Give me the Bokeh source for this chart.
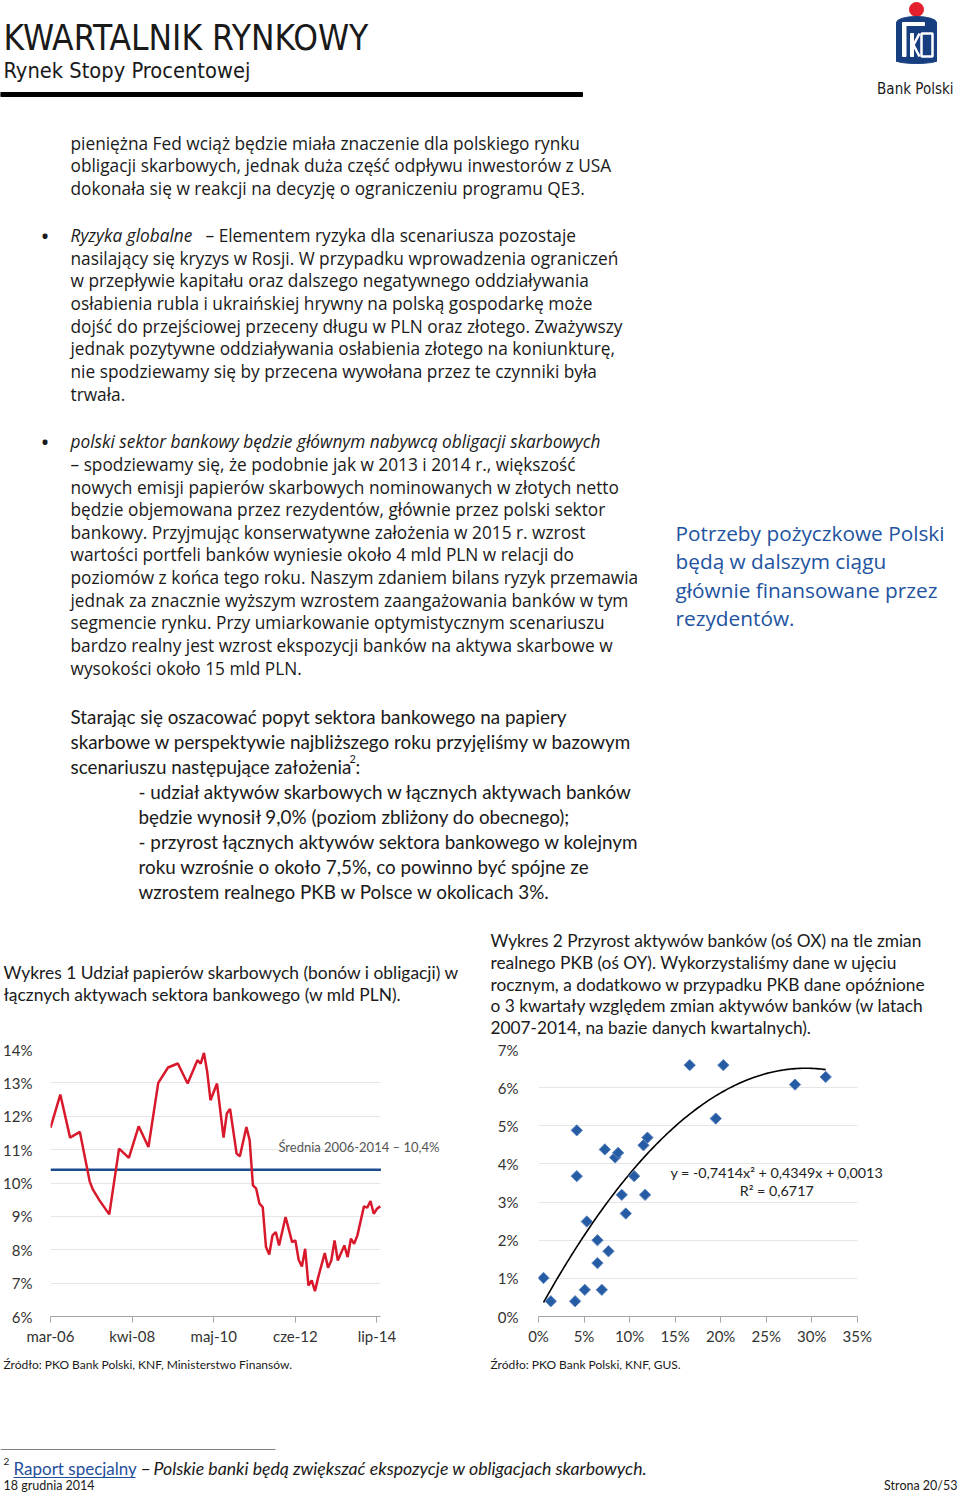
from bokeh.plotting import figure
from bokeh.layouts import column, row
from bokeh.models import Range1d, FixedTicker, PrintfTickFormatter, Label
from bokeh.embed import file_html
from bokeh.resources import INLINE
from bokeh.core.properties import value

# ---------------- Chart 1 data: share of treasury papers in bank assets (%) ----------------
months = ["2006-03", "2006-06", "2006-09", "2006-12", "2007-03", "2007-04", "2007-06", "2007-09",
          "2007-12", "2008-03", "2008-06", "2008-09", "2008-12", "2009-03", "2009-06", "2009-09",
          "2009-12", "2010-01", "2010-02", "2010-03", "2010-04", "2010-06", "2010-08", "2010-09",
          "2010-10", "2010-12", "2011-01", "2011-03", "2011-04", "2011-05", "2011-06", "2011-07",
          "2011-08", "2011-09", "2011-10", "2011-11", "2011-12", "2012-01", "2012-03", "2012-05",
          "2012-06", "2012-07", "2012-08", "2012-09", "2012-10", "2012-11", "2012-12", "2013-01",
          "2013-03", "2013-04", "2013-05", "2013-06", "2013-07", "2013-09", "2013-10", "2013-11",
          "2013-12", "2014-01", "2014-03", "2014-04", "2014-05", "2014-06", "2014-07", "2014-08"]
share_pct = [11.66, 12.65, 11.36, 11.53, 10.05, 9.80, 9.48, 9.06,
             11.03, 10.75, 11.70, 11.08, 13.00, 13.46, 13.58, 12.98,
             13.68, 13.58, 13.90, 13.33, 12.48, 12.98, 11.36, 12.08,
             12.22, 10.88, 10.80, 11.68, 11.28, 9.93, 9.83, 9.38,
             9.28, 8.08, 7.86, 8.43, 8.53, 8.13, 8.98, 8.23,
             8.28, 7.70, 7.50, 8.03, 6.93, 7.08, 6.76, 7.18,
             7.90, 7.46, 7.68, 8.28, 7.68, 8.13, 7.78, 8.33,
             8.18, 8.43, 9.30, 9.26, 9.46, 9.08, 9.23, 9.30]
avg_pct = 10.4
avg_label = "Średnia 2006-2014 – 10,4%"
x1_tick_months = ["2006-03", "2008-04", "2010-05", "2012-06", "2014-07"]
x1_tick_labels = ["mar-06", "kwi-08", "maj-10", "cze-12", "lip-14"]
y1_ticks = [6, 7, 8, 9, 10, 11, 12, 13, 14]

# ---------------- Chart 2 data: bank asset growth (x) vs real GDP growth (y), % ----------------
assets_growth = [0.55, 1.35, 4.02, 4.2, 4.2, 5.08, 5.3, 6.47, 6.47, 6.95, 7.28, 7.68, 8.41,
                 8.74, 9.14, 9.58, 10.5, 11.52, 11.96, 11.70, 16.6, 20.29, 19.46, 28.16, 31.53]
gdp_growth = [1.01, 0.40, 0.40, 4.88, 3.68, 0.70, 2.49, 2.0, 1.4, 0.70, 4.38, 1.71, 4.17,
              4.29, 3.19, 2.70, 3.68, 4.49, 4.69, 3.19, 6.59, 6.59, 5.19, 6.08, 6.28]
trend_a, trend_b, trend_c = -0.7414, 0.4349, 0.0013
trend_eq = "y = -0,7414x² + 0,4349x + 0,0013"
trend_r2 = "R² = 0,6717"
x2_ticks = [0, 5, 10, 15, 20, 25, 30, 35]
y2_ticks = [0, 1, 2, 3, 4, 5, 6, 7]

# ---------------- Page text ----------------
TXT = "#1a1a1a"
BLUE = "#22539f"
WIDE = "Open Sans"
NARROW = "Lato"
HEAD = "'Liberation Sans Narrow', 'DejaVu Sans Condensed', sans-serif"

para1 = ["pieniężna Fed wciąż będzie miała znaczenie dla polskiego rynku",
         "obligacji skarbowych, jednak duża część odpływu inwestorów z USA",
         "dokonała się w reakcji na decyzję o ograniczeniu programu QE3."]
para1_y = [143, 165, 188]
para2 = ["nasilający się kryzys w Rosji. W przypadku wprowadzenia ograniczeń",
         "w przepływie kapitału oraz dalszego negatywnego oddziaływania",
         "osłabienia rubla i ukraińskiej hrywny na polską gospodarkę może",
         "dojść do przejściowej przeceny długu w PLN oraz złotego. Zważywszy",
         "jednak pozytywne oddziaływania osłabienia złotego na koniunkturę,",
         "nie spodziewamy się by przecena wywołana przez te czynniki była",
         "trwała."]
para2_y = [258, 280, 303, 326, 348, 371, 394]
para3 = ["– spodziewamy się, że podobnie jak w 2013 i 2014 r., większość",
         "nowych emisji papierów skarbowych nominowanych w złotych netto",
         "będzie objemowana przez rezydentów, głównie przez polski sektor",
         "bankowy. Przyjmując konserwatywne założenia w 2015 r. wzrost",
         "wartości portfeli banków wyniesie około 4 mld PLN w relacji do",
         "poziomów z końca tego roku. Naszym zdaniem bilans ryzyk przemawia",
         "jednak za znacznie wyższym wzrostem zaangażowania banków w tym",
         "segmencie rynku. Przy umiarkowanie optymistycznym scenariuszu",
         "bardzo realny jest wzrost ekspozycji banków na aktywa skarbowe w",
         "wysokości około 15 mld PLN."]
para3_y = [464, 487, 509, 532, 554, 577, 600, 622, 645, 668]
para4 = ["Starając się oszacować popyt sektora bankowego na papiery",
         "skarbowe w perspektywie najbliższego roku przyjęliśmy w bazowym",
         "scenariuszu następujące założenia"]
para4_y = [716, 741, 766]
para5 = ["- udział aktywów skarbowych w łącznych aktywach banków",
         "będzie wynosił 9,0% (poziom zbliżony do obecnego);",
         "- przyrost łącznych aktywów sektora bankowego w kolejnym",
         "roku wzrośnie o około 7,5%, co powinno być spójne ze",
         "wzrostem realnego PKB w Polsce w okolicach 3%."]
para5_y = [791, 816, 841, 866, 891]
side = ["Potrzeby pożyczkowe Polski", "będą w dalszym ciągu",
        "głównie finansowane przez", "rezydentów."]
side_y = [532, 560, 589, 617]
title1 = ["Wykres 1 Udział papierów skarbowych (bonów i obligacji) w",
          "łącznych aktywach sektora bankowego (w mld PLN)."]
title1_y = [972, 994]
title2 = ["Wykres 2 Przyrost aktywów banków (oś OX) na tle zmian",
          "realnego PKB (oś OY). Wykorzystaliśmy dane w ujęciu",
          "rocznym, a dodatkowo w przypadku PKB dane opóźnione",
          "o 3 kwartały względem zmian aktywów banków (w latach",
          "2007-2014, na bazie danych kwartalnych)."]
title2_y = [940, 962, 984, 1005, 1027]

PAGE_W = 958
TOP_PAGE = 0
TOP_H = 1040
CH_H = 312
BOT_PAGE = 1352
BOT_H = 140


def canvas(h):
    p = figure(width=PAGE_W, height=h, x_range=Range1d(0, PAGE_W), y_range=Range1d(h, 0),
               output_backend="svg", toolbar_location=None, min_border=0,
               x_axis_location=None, y_axis_location=None)
    p.grid.visible = False
    p.outline_line_color = None
    p.background_fill_color = "white"
    return p


def put(p, top, xs, ys, texts, font, size, color=TXT, style="normal", align="left"):
    p.text(x=list(xs), y=[y - top for y in ys], text=texts,
           text_font=value(font), text_font_size=value(f"{size}px"),
           text_color=color, text_font_style=style, text_align=align,
           text_baseline="middle")


# ---------------- Top canvas: header, body text, chart titles ----------------
pt = canvas(TOP_H)
put(pt, TOP_PAGE, [3], [37], ["KWARTALNIK RYNKOWY"], HEAD, 35)
put(pt, TOP_PAGE, [3], [70], ["Rynek Stopy Procentowej"], HEAD, 21.7)
pt.quad(left=[0], right=[582], top=[92], bottom=[96], color="black")

# logo (decorative)
pt.circle(x=[916], y=[9], radius=7, color="#e3202b")
pt.ellipse(x=[916], y=[22], width=40, height=12, color="#173f80")
pt.quad(left=[896], right=[936], top=[22], bottom=[61], color="#173f80")
pt.ellipse(x=[916], y=[60], width=40, height=6, color="#173f80")
pt.quad(left=[902], right=[905.5], top=[25], bottom=[56], color="white")
pt.quad(left=[902], right=[924], top=[22], bottom=[25], color="white")
pt.quad(left=[910], right=[913], top=[33], bottom=[56], color="white")
pt.segment(x0=[913, 913], y0=[44.5, 44.5], x1=[919, 919], y1=[33, 56], line_color="white", line_width=2.5)
pt.quad(left=[921], right=[932], top=[33], bottom=[56], fill_color=None, line_color="white", line_width=2.5)
put(pt, TOP_PAGE, [953], [88], ["Bank Polski"], HEAD, 15, align="right")

put(pt, TOP_PAGE, [70] * 3, para1_y, para1, WIDE, 17.3)
put(pt, TOP_PAGE, [40, 40], [235, 441], ["•", "•"], WIDE, 24)
put(pt, TOP_PAGE, [70], [235], ["Ryzyka globalne"], WIDE, 17.3, style="italic")
put(pt, TOP_PAGE, [205], [235], ["– Elementem ryzyka dla scenariusza pozostaje"], WIDE, 17.3)
put(pt, TOP_PAGE, [70] * len(para2), para2_y, para2, WIDE, 17.3)
put(pt, TOP_PAGE, [70], [441], ["polski sektor bankowy będzie głównym nabywcą obligacji skarbowych"],
    WIDE, 17.3, style="italic")
put(pt, TOP_PAGE, [70] * len(para3), para3_y, para3, WIDE, 17.3)
put(pt, TOP_PAGE, [70] * len(para4), para4_y, para4, NARROW, 18.85)
put(pt, TOP_PAGE, [349], [758], ["2"], NARROW, 11)
put(pt, TOP_PAGE, [355], [766], [":"], NARROW, 18.85)
put(pt, TOP_PAGE, [138] * len(para5), para5_y, para5, NARROW, 18.85)
put(pt, TOP_PAGE, [675] * len(side), side_y, side, WIDE, 20.8, color=BLUE)
put(pt, TOP_PAGE, [3] * len(title1), title1_y, title1, NARROW, 17.4)
put(pt, TOP_PAGE, [490] * len(title2), title2_y, title2, NARROW, 17.3)

# ---------------- Chart 1 ----------------
def midx(s):
    y, m = map(int, s.split("-"))
    return (y - 2006) * 12 + (m - 3)


GRID = "#e6e6e6"
AXIS = "#a6a6a6"
LBL = "#333333"

x1_start, x1_end = 0, 101.2          # extent of the plotted time axis (months since mar-06)
x1_view_end = 121.9                  # extra room on the right for the average label
p1 = figure(width=480, height=CH_H, x_range=Range1d(x1_start, x1_view_end), y_range=Range1d(6, 14),
            output_backend="svg", toolbar_location=None,
            min_border_left=48, min_border_right=32, min_border_top=9, min_border_bottom=36)
p1.outline_line_color = None
p1.xgrid.visible = False
p1.ygrid.grid_line_color = GRID
p1.ygrid.ticker = FixedTicker(ticks=y1_ticks)
p1.ygrid.cross_bounds = (x1_start, x1_end)
p1.line(x=[x1_start, x1_end], y=[avg_pct, avg_pct], line_color="#1d4b8f", line_width=2.5)
p1.line(x=[midx(m) for m in months], y=share_pct, line_color="#d8192b", line_width=2.5)
p1.add_layout(Label(x=69.8, y=11.07, text=avg_label, text_font=NARROW, text_font_size="13px",
                    text_color="#555555", text_baseline="middle"))
p1.yaxis.ticker = FixedTicker(ticks=y1_ticks)
p1.yaxis.formatter = PrintfTickFormatter(format="%d%%")
p1.yaxis.axis_line_color = None
p1.yaxis.major_tick_line_color = None
p1.yaxis.minor_tick_line_color = None
p1.yaxis.major_label_standoff = 12
x1_ticks = [midx(m) for m in x1_tick_months]
p1.xaxis.ticker = FixedTicker(ticks=x1_ticks)
p1.xaxis.bounds = (x1_start, x1_end)
p1.xaxis.major_label_overrides = {t: l for t, l in zip(x1_ticks, x1_tick_labels)}
p1.xaxis.axis_line_color = AXIS
p1.xaxis.major_tick_line_color = AXIS
p1.xaxis.major_tick_out = 6
p1.xaxis.major_tick_in = 0
p1.xaxis.minor_tick_line_color = None
p1.xaxis.major_label_standoff = 4
for ax in (p1.xaxis, p1.yaxis):
    ax.major_label_text_font = NARROW
    ax.major_label_text_font_size = "15px"
    ax.major_label_text_color = LBL

# ---------------- Chart 2 ----------------
x_lo, x_hi = min(assets_growth), max(assets_growth)
trend_x = [x_lo + (x_hi - x_lo) * i / 120 for i in range(121)]
trend_y = [100 * (trend_a * (x / 100) ** 2 + trend_b * (x / 100) + trend_c) for x in trend_x]

x2_view_end = 39.3                   # extra room on the right for the equation label
p2 = figure(width=478, height=CH_H, x_range=Range1d(0, x2_view_end), y_range=Range1d(0, 7),
            output_backend="svg", toolbar_location=None,
            min_border_left=58, min_border_right=62, min_border_top=9, min_border_bottom=36)
p2.outline_line_color = None
p2.xgrid.visible = False
p2.ygrid.grid_line_color = GRID
p2.ygrid.ticker = FixedTicker(ticks=y2_ticks)
p2.ygrid.cross_bounds = (x2_ticks[0], x2_ticks[-1])
p2.line(x=trend_x, y=trend_y, line_color="black", line_width=1.6)
p2.scatter(x=assets_growth, y=gdp_growth, marker="square", angle=0.7854, size=8,
           fill_color="#265ca4", line_color="#5d86c0", line_width=1)
p2.add_layout(Label(x=26.15, y=3.78, text=trend_eq, text_font=NARROW, text_font_size="14.3px",
                    text_color="#222222", text_align="center", text_baseline="middle"))
p2.add_layout(Label(x=26.15, y=3.30, text=trend_r2, text_font=NARROW, text_font_size="14.3px",
                    text_color="#222222", text_align="center", text_baseline="middle"))
p2.yaxis.ticker = FixedTicker(ticks=y2_ticks)
p2.yaxis.formatter = PrintfTickFormatter(format="%d%%")
p2.yaxis.axis_line_color = None
p2.yaxis.major_tick_line_color = None
p2.yaxis.minor_tick_line_color = None
p2.yaxis.major_label_standoff = 14
p2.xaxis.ticker = FixedTicker(ticks=x2_ticks)
p2.xaxis.bounds = (x2_ticks[0], x2_ticks[-1])
p2.xaxis.formatter = PrintfTickFormatter(format="%d%%")
p2.xaxis.axis_line_color = AXIS
p2.xaxis.major_tick_line_color = AXIS
p2.xaxis.major_tick_out = 6
p2.xaxis.major_tick_in = 0
p2.xaxis.minor_tick_line_color = None
p2.xaxis.major_label_standoff = 4
for ax in (p2.xaxis, p2.yaxis):
    ax.major_label_text_font = NARROW
    ax.major_label_text_font_size = "15px"
    ax.major_label_text_color = LBL

# ---------------- Bottom canvas: sources and footer ----------------
pb = canvas(BOT_H)
put(pb, BOT_PAGE, [3, 490], [1364, 1364],
    ["Źródło: PKO Bank Polski, KNF, Ministerstwo Finansów.", "Źródło: PKO Bank Polski, KNF, GUS."],
    NARROW, 12)
pb.segment(x0=[0], y0=[1449 - BOT_PAGE], x1=[275], y1=[1449 - BOT_PAGE], line_color="#808080", line_width=1)
put(pb, BOT_PAGE, [3], [1461], ["2"], NARROW, 10)
put(pb, BOT_PAGE, [13], [1468], ["Raport specjalny"], NARROW, 17, color="#1f4f9c")
pb.segment(x0=[13], y0=[1477 - BOT_PAGE], x1=[135], y1=[1477 - BOT_PAGE], line_color="#1f4f9c", line_width=1)
put(pb, BOT_PAGE, [140], [1468], ["–"], NARROW, 17.7)
put(pb, BOT_PAGE, [153], [1468],
    ["Polskie banki będą zwiększać ekspozycje w obligacjach skarbowych."], NARROW, 17.7, style="italic")
put(pb, BOT_PAGE, [3], [1485], ["18 grudnia 2014"], NARROW, 12.5)
put(pb, BOT_PAGE, [957], [1485], ["Strona 20/53"], NARROW, 12.5, align="right")

layout = column(pt, row(p1, p2, spacing=0), pb, spacing=0)
open("out.html", "w").write(file_html(layout, INLINE))
